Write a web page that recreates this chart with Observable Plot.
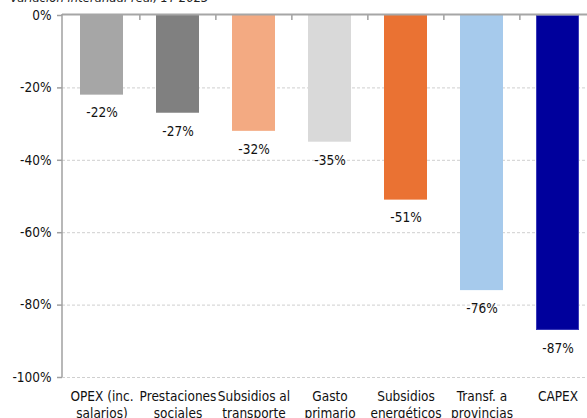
<!DOCTYPE html>
<html>
<head>
<meta charset="utf-8">
<script src="https://cdn.jsdelivr.net/npm/d3@7"></script>
<script src="https://cdn.jsdelivr.net/npm/@observablehq/plot@0.6"></script>
<style>
  html, body { margin: 0; padding: 0; background: #fff; overflow: hidden; width: 587px; height: 418px; }
  #wrap { position: relative; width: 587px; height: 418px; overflow: hidden; }
  #title { position: absolute; left: 10px; top: -10px; font: italic 13px "DejaVu Sans Condensed", "DejaVu Sans", sans-serif; color: #222; white-space: nowrap; }
  #chart { position: absolute; left: 0; top: 0; }
</style>
</head>
<body>
<div id="wrap">
  <div id="title">Variación interanual real, 1T 2023</div>
  <div id="chart"></div>
</div>
<script>
// Real year-on-year change by spending line, Q1 2023 (%)
const categories = [
  "OPEX (inc.\nsalarios)",
  "Prestaciones\nsociales",
  "Subsidios al\ntransporte",
  "Gasto\nprimario",
  "Subsidios\nenergéticos",
  "Transf. a\nprovincias",
  "CAPEX"
];
const values = [-22, -27, -32, -35, -51, -76, -87];
const colors = ["#a6a6a6", "#808080", "#f3aa82", "#d9d9d9", "#ea7233", "#a6caec", "#00009c"];
const yTicks = [0, -20, -40, -60, -80, -100];

const rows = categories.map((c, i) => ({category: c, value: values[i], color: colors[i]}));

const W = 600, H = 430, ML = 62, MR = 4, MT = 15, MB = 53;
const step = (W - ML - MR) / categories.length;
const font = '"DejaVu Sans Condensed", "DejaVu Sans", sans-serif';

const chart = Plot.plot({
  width: W,
  height: H,
  marginLeft: ML,
  marginRight: MR,
  marginTop: MT,
  marginBottom: MB,
  style: {fontFamily: font, fontSize: "13px", color: "#111", background: "transparent", overflow: "visible", maxWidth: "none"},
  x: {type: "band", domain: categories, paddingInner: 0.44, paddingOuter: 0.22, axis: null},
  y: {domain: [-100, 0], axis: null},
  marks: [
    // dashed gridlines
    Plot.ruleY(yTicks.filter(d => d < 0), {stroke: "#cfcfcf", strokeDasharray: "3,2", strokeWidth: 1}),
    // bars
    Plot.barY(rows, {x: "category", y: "value", fill: "color"}),
    Plot.barY(rows.filter(d => d.category === "CAPEX"), {x: "category", y: "value", fill: "none", stroke: "#3a3ab8", strokeWidth: 1, inset: 0.5}),
    // value labels under each bar
    Plot.text(rows, {x: "category", y: "value", text: d => `${d.value}%`, dy: 18, fontSize: 13.5, fill: "#111"}),
    // y axis ticks and labels
    Plot.axisY({ticks: yTicks, label: null, tickFormat: d => `${d}%`, tickSize: 5, tickPadding: 6, fontSize: 13.5, stroke: "#a0a0a0", strokeWidth: 1.5, fill: "#111"}),
    // category boundary ticks along the top axis
    Plot.ruleX(categories.slice(1), {x: d => d, y1: 0, y2: 0, insetTop: -1, insetBottom: -5, dx: -step / 2, stroke: "#a0a0a0", strokeWidth: 1.5}),
    // top axis line at 0%
    Plot.ruleY([0], {stroke: "#a6a6a6", strokeWidth: 2, dy: -1}),
    // category labels
    Plot.text(categories, {x: d => d, y: () => -100, text: d => d, dy: 12, lineAnchor: "top", lineHeight: 1.25, fontSize: 13.5, fill: "#111"})
  ]
});

// left axis line
const svg = d3.select(chart);
svg.append("line")
  .attr("x1", ML).attr("x2", ML)
  .attr("y1", MT - 1).attr("y2", H - MB)
  .attr("stroke", "#a0a0a0").attr("stroke-width", 1.5);

document.getElementById("chart").appendChild(chart);
</script>
</body>
</html>
